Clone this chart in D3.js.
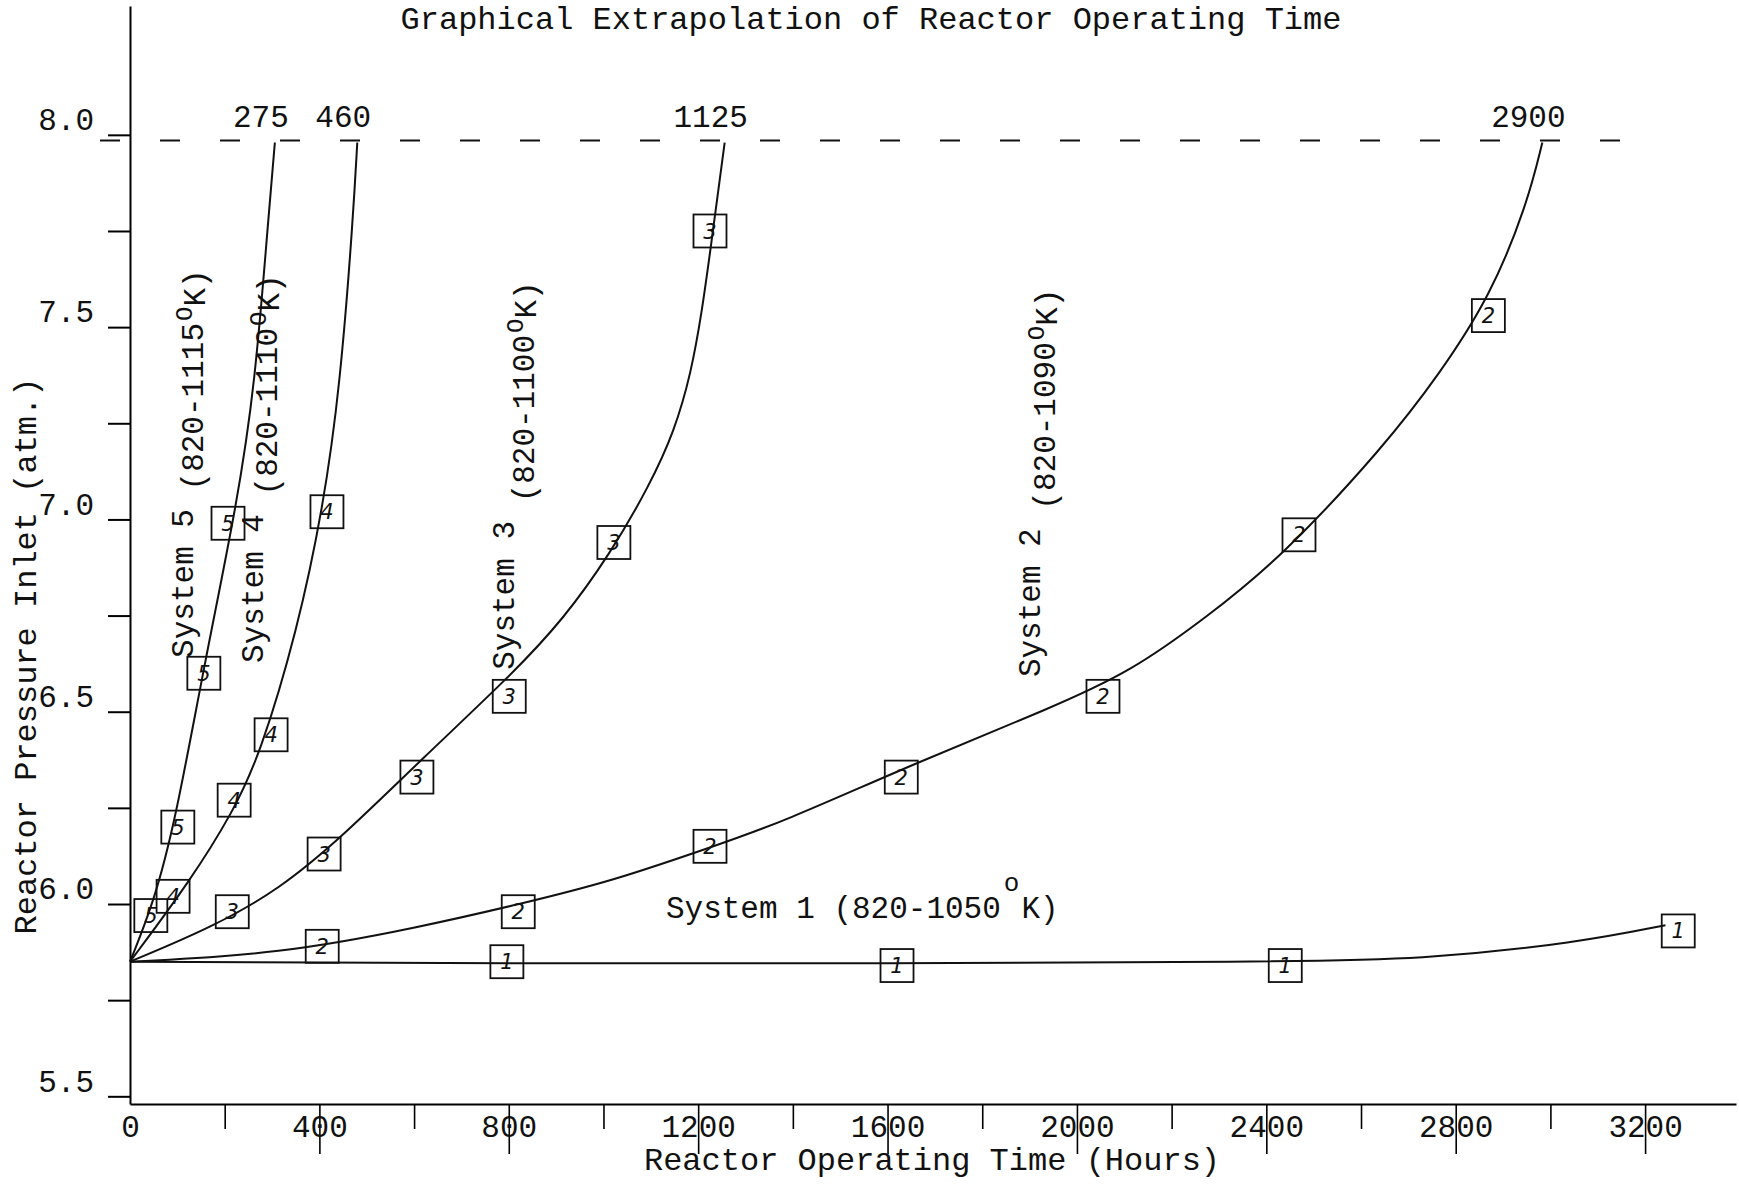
<!DOCTYPE html>
<html>
<head>
<meta charset="utf-8">
<script src="https://cdn.jsdelivr.net/npm/d3@7"></script>
<style>
  html, body { margin: 0; padding: 0; background: #fff; }
  svg text { font-family: "Liberation Mono", "DejaVu Sans Mono", monospace; fill: #111; }
  svg .mark-digit { font-family: "DejaVu Sans", sans-serif; font-style: italic; }
</style>
</head>
<body>
<div id="chart"></div>
<script>
// [hours, atm]
const sys1Line = [[0, 5.85], [800, 5.845], [1600, 5.845], [2400, 5.85], [2730, 5.855], [3060, 5.90], [3243, 5.945]];
const sys2Line = [[0, 5.85], [317, 5.87], [613, 5.94], [824, 6.00], [1020, 6.06], [1232, 6.15], [1373, 6.21], [1665, 6.37], [1946, 6.51], [2115, 6.605], [2273, 6.745], [2431, 6.90], [2649, 7.19], [2767, 7.38], [2873, 7.58], [2951, 7.82], [2983, 7.98]];
const sys3Line = [[0, 5.85], [175, 5.94], [317, 6.04], [444, 6.17], [619, 6.38], [809, 6.60], [915, 6.74], [1014, 6.91], [1098, 7.09], [1150, 7.23], [1185, 7.38], [1208, 7.54], [1228, 7.72], [1256, 7.98]];
const sys4Line = [[0, 5.85], [127, 6.06], [218, 6.24], [275, 6.39], [353, 6.71], [408, 7.03], [444, 7.35], [471, 7.78], [480, 7.98]];
const sys5Line = [[0, 5.85], [49, 6.00], [95, 6.21], [158, 6.63], [226, 7.04], [264, 7.35], [292, 7.78], [306, 7.98]];

// boxed data points
const sys1Points = [[796, 5.85], [1620, 5.84], [2440, 5.84], [3270, 5.93]];
const sys2Points = [[406, 5.89], [820, 5.98], [1225, 6.15], [1629, 6.33], [2055, 6.54], [2469, 6.96], [2869, 7.53]];
const sys3Points = [[216, 5.98], [410, 6.13], [606, 6.33], [801, 6.54], [1022, 6.94], [1225, 7.75]];
const sys4Points = [[91, 6.02], [220, 6.27], [298, 6.44], [416, 7.02]];
const sys5Points = [[44, 5.97], [101, 6.20], [156, 6.60], [207, 6.99]];

const systemIds = ["1", "2", "3", "4", "5"];
const systemTemps = ["820-1050", "820-1090", "820-1100", "820-1110", "820-1115"];
const endLabels = ["2900", "1125", "460", "275"]; // systems 2..5
const limitPressure = 7.985;

const xTicks = [0, 400, 800, 1200, 1600, 2000, 2400, 2800, 3200];
const xMinorTicks = [200, 600, 1000, 1400, 1800, 2200, 2600, 3000];
const yTicks = [5.5, 5.75, 6.0, 6.25, 6.5, 6.75, 7.0, 7.25, 7.5, 7.75, 8.0];
const yLabelled = [5.5, 6.0, 6.5, 7.0, 7.5, 8.0];

const lines = [sys1Line, sys2Line, sys3Line, sys4Line, sys5Line];
const points = [sys1Points, sys2Points, sys3Points, sys4Points, sys5Points];

const width = 1739, height = 1187;
const x = d3.scaleLinear().domain([0, 3392]).range([130, 1736]);
const y = d3.scaleLinear().domain([5.48, 8.335]).range([1104, 6]);

const svg = d3.select("#chart").append("svg")
  .attr("width", width)
  .attr("height", height)
  .style("background", "#fff");

svg.append("text")
  .attr("x", 871).attr("y", 29)
  .attr("text-anchor", "middle")
  .attr("font-size", 32)
  .text("Graphical Extrapolation of Reactor Operating Time");

// y axis
const gy = svg.append("g")
  .attr("transform", `translate(${x(0)},0)`)
  .call(d3.axisLeft(y).tickValues(yTicks).tickSize(22).tickPadding(14).tickSizeOuter(0)
    .tickFormat(d => yLabelled.includes(d) ? d.toFixed(1) : ""));
gy.select(".domain").attr("stroke-width", 2);
gy.selectAll(".tick line").attr("stroke-width", 2);
gy.selectAll(".tick text").attr("font-size", 31).attr("dy", "-0.17em");

// x axis, major ticks cross the labels
const gx = svg.append("g")
  .attr("transform", `translate(0,${y(5.48)})`)
  .call(d3.axisBottom(x).tickValues(xTicks).tickSize(50).tickPadding(-39).tickSizeOuter(0)
    .tickFormat(d3.format("d")));
gx.select(".domain").attr("stroke-width", 2);
gx.selectAll(".tick line").attr("stroke-width", 1.6).attr("opacity", d => d === 0 ? 0 : 1);
gx.selectAll(".tick text").attr("font-size", 31);

const gxm = svg.append("g")
  .attr("transform", `translate(0,${y(5.48)})`)
  .call(d3.axisBottom(x).tickValues(xMinorTicks).tickSize(25).tickFormat(""));
gxm.select(".domain").remove();
gxm.selectAll(".tick line").attr("stroke-width", 1.6);

svg.append("text")
  .attr("x", 932).attr("y", 1170)
  .attr("text-anchor", "middle")
  .attr("font-size", 32)
  .text("Reactor Operating Time (Hours)");

svg.append("text")
  .attr("transform", "translate(36,656) rotate(-90)")
  .attr("text-anchor", "middle")
  .attr("font-size", 32)
  .text("Reactor Pressure Inlet (atm.)");

// dashed limit line
svg.append("line")
  .attr("x1", x(0) - 30).attr("x2", x(3164))
  .attr("y1", y(limitPressure)).attr("y2", y(limitPressure))
  .attr("stroke", "#111").attr("stroke-width", 2)
  .attr("stroke-dasharray", "20,40");

const line = d3.line()
  .x(d => x(d[0])).y(d => y(d[1]))
  .curve(d3.curveBasis);

svg.selectAll(".curve")
  .data(lines)
  .enter()
  .append("path")
  .attr("class", "curve")
  .attr("d", line)
  .attr("fill", "none")
  .attr("stroke", "#111")
  .attr("stroke-width", 2);

// hours at which each curve meets the limit
lines.slice(1).forEach((l, i) => {
  const end = l[l.length - 1];
  svg.append("text")
    .attr("x", x(end[0]) - 14)
    .attr("y", y(limitPressure) - 14)
    .attr("text-anchor", "middle")
    .attr("font-size", 31)
    .text(endLabels[i]);
});

// boxed points
points.forEach((pts, i) => {
  const g = svg.append("g");
  const m = g.selectAll("g").data(pts).enter().append("g")
    .attr("transform", d => `translate(${x(d[0])},${y(d[1])})`);
  m.append("rect")
    .attr("x", -16.5).attr("y", -16.5)
    .attr("width", 33).attr("height", 33)
    .attr("fill", "none")
    .attr("stroke", "#111")
    .attr("stroke-width", 1.8);
  m.append("text")
    .attr("class", "mark-digit")
    .attr("text-anchor", "middle")
    .attr("dy", "0.36em")
    .attr("font-size", 21)
    .text(systemIds[i]);
});

// rotated system labels: anchor [hours, atm] and offset of the bracketed part
const rotLabels = [
  { sys: 4, at: [133, 6.640], shift: 10 },
  { sys: 3, at: [281, 6.627], shift: 14 },
  { sys: 2, at: [811, 6.609], shift: 20 },
  { sys: 1, at: [1922, 6.590], shift: 15 }
];
rotLabels.forEach(l => {
  const t = svg.append("text")
    .attr("transform", `translate(${x(l.at[0])},${y(l.at[1])}) rotate(-90)`)
    .attr("font-size", 31);
  t.append("tspan").text("System " + systemIds[l.sys] + "  ");
  t.append("tspan").attr("dy", l.shift).text("(" + systemTemps[l.sys]);
  t.append("tspan").attr("dx", 2).attr("dy", -11).attr("font-size", 24).text("O");
  t.append("tspan").attr("dy", 13).text("K)");
});

const s1 = svg.append("text")
  .attr("x", x(1132)).attr("y", y(5.964))
  .attr("font-size", 31);
s1.append("tspan").text("System " + systemIds[0] + " (" + systemTemps[0]);
s1.append("tspan").attr("dx", 3).attr("dy", -27).attr("font-size", 26).text("o");
s1.append("tspan").attr("dx", 2).attr("dy", 27).text("K)");
</script>
</body>
</html>
